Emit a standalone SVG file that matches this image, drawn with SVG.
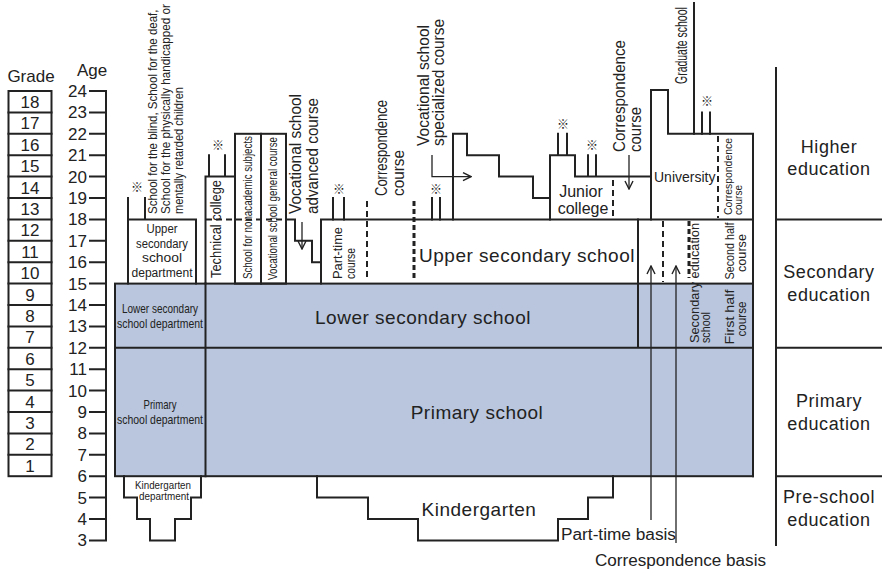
<svg xmlns="http://www.w3.org/2000/svg" width="882" height="569" viewBox="0 0 882 569">
<defs>
<style>
.ln{fill:none;stroke:#222;stroke-width:2;stroke-linejoin:miter;stroke-linecap:square}
.thin{fill:none;stroke:#222;stroke-width:1.3}
.dash{fill:none;stroke:#222;stroke-width:2;stroke-dasharray:6 4}
.dashb{fill:none;stroke:#222;stroke-width:3;stroke-dasharray:5 3}
.blue{fill:#b9c6dd;stroke:#222;stroke-width:2}
.t{font-family:"Liberation Sans",Arial,sans-serif;fill:#222}
.m{text-anchor:middle}
.e{text-anchor:end}
.big{font-size:19px;letter-spacing:0.5px}
.lab{font-size:18px;letter-spacing:0.6px;text-anchor:middle}
.mk{font-family:"Noto Sans CJK JP","DejaVu Sans",sans-serif;font-size:12px;font-weight:700;fill:#222;text-anchor:middle}
</style>
<marker id="ah" viewBox="0 0 10 10" refX="9" refY="5" markerWidth="10" markerHeight="10" markerUnits="userSpaceOnUse" orient="auto"><path d="M1,1 L9,5 L1,9" fill="none" stroke="#222" stroke-width="1.4"/></marker>
</defs>
<rect width="882" height="569" fill="#fff"/>

<g id="grade-column">
<text class="t m" x="31" y="82" font-size="17">Grade</text>
<rect class="ln" x="8.5" y="91" width="43" height="385.2"/>
<path class="ln" d="M8.5,112.4H51.5M8.5,133.8H51.5M8.5,155.2H51.5M8.5,176.6H51.5M8.5,198H51.5M8.5,219.4H51.5M8.5,240.8H51.5M8.5,262.2H51.5M8.5,283.6H51.5M8.5,305H51.5M8.5,326.4H51.5M8.5,347.8H51.5M8.5,369.2H51.5M8.5,390.6H51.5M8.5,412H51.5M8.5,433.4H51.5M8.5,454.8H51.5"/>
<g class="t m" font-size="17">
<text x="30" y="108">18</text><text x="30" y="129.4">17</text><text x="30" y="150.8">16</text><text x="30" y="172.2">15</text><text x="30" y="193.6">14</text><text x="30" y="215">13</text><text x="30" y="236.4">12</text><text x="30" y="257.8">11</text><text x="30" y="279.2">10</text><text x="30" y="300.6">9</text><text x="30" y="322">8</text><text x="30" y="343.4">7</text><text x="30" y="364.8">6</text><text x="30" y="386.2">5</text><text x="30" y="407.6">4</text><text x="30" y="429">3</text><text x="30" y="450.4">2</text><text x="30" y="471.8">1</text>
</g>
</g>

<g id="age-axis">
<text class="t m" x="92" y="76" font-size="17">Age</text>
<path class="ln" d="M106,91V540.4M90,91H106M90,112.4H106M90,133.8H106M90,155.2H106M90,176.6H106M90,198H106M90,219.4H106M90,240.8H106M90,262.2H106M90,283.6H106M90,305H106M90,326.4H106M90,347.8H106M90,369.2H106M90,390.6H106M90,412H106M90,433.4H106M90,454.8H106M90,476.2H106M90,497.6H106M90,519H106M90,540.4H106"/>
<g class="t e" font-size="17">
<text x="87" y="97">24</text><text x="87" y="118.4">23</text><text x="87" y="139.8">22</text><text x="87" y="161.2">21</text><text x="87" y="182.6">20</text><text x="87" y="204">19</text><text x="87" y="225.4">18</text><text x="87" y="246.8">17</text><text x="87" y="268.2">16</text><text x="87" y="289.6">15</text><text x="87" y="311">14</text><text x="87" y="332.4">13</text><text x="87" y="353.8">12</text><text x="87" y="375.2">11</text><text x="87" y="396.6">10</text><text x="87" y="418">9</text><text x="87" y="439.4">8</text><text x="87" y="460.8">7</text><text x="87" y="482.2">6</text><text x="87" y="503.6">5</text><text x="87" y="525">4</text><text x="87" y="546.4">3</text>
</g>
</g>

<g id="compulsory-blue">
<rect class="blue" x="115" y="283.6" width="638" height="192.6"/>
<path class="ln" d="M205.5,283.6V476.2M115,347.8H753M638,219.4V347.8"/>
</g>

<g id="lower-secondary-school">
<text class="t m big" x="423" y="324">Lower secondary school</text>
</g>
<g id="primary-school">
<text class="t m big" x="477" y="419">Primary school</text>
</g>

<g id="special-school">
<path class="ln" d="M128,198V283.6M128,219.4H196V283.6M145,198V219.4"/>
<text class="mk" x="137" y="192">※</text>
<g class="t" font-size="13">
<text transform="translate(157,214) rotate(-90) scale(0.885,1)">School for the blind, School for the deaf,</text>
<text transform="translate(170,214) rotate(-90) scale(0.9,1)">School for the physically handicapped or</text>
<text transform="translate(183,214) rotate(-90) scale(0.85,1)">mentally retarded children</text>
</g>
<g class="t m" font-size="12.5">
<text x="162" y="233" textLength="31" lengthAdjust="spacingAndGlyphs">Upper</text>
<text x="162" y="247.5" textLength="52" lengthAdjust="spacingAndGlyphs">secondary</text>
<text x="162" y="262" textLength="40" lengthAdjust="spacingAndGlyphs">school</text>
<text x="162" y="276.5" textLength="61" lengthAdjust="spacingAndGlyphs">department</text>
</g>
<g class="t m" font-size="13">
<text x="160" y="313" textLength="76" lengthAdjust="spacingAndGlyphs">Lower secondary</text>
<text x="160" y="328" textLength="86" lengthAdjust="spacingAndGlyphs">school department</text>
<text x="160" y="409" textLength="33" lengthAdjust="spacingAndGlyphs">Primary</text>
<text x="160" y="424" textLength="86" lengthAdjust="spacingAndGlyphs">school department</text>
</g>
</g>

<g id="kindergarten-department">
<path class="ln" d="M124,476.2V497.6H137V519H150V540.4H175V519H191V497.6H201V476.2"/>
<g class="t m" font-size="11">
<text x="163" y="489" textLength="56" lengthAdjust="spacingAndGlyphs">Kindergarten</text>
<text x="164" y="500" textLength="50" lengthAdjust="spacingAndGlyphs">department</text>
</g>
</g>

<g id="technical-college">
<path class="ln" d="M205.5,176.6V283.6M205.5,176.6H235M209,155.2V176.6M225,155.2V176.6"/>
<text class="mk" x="218" y="150">※</text>
<text class="t" font-size="15" transform="translate(221,278) rotate(-90)" textLength="98" lengthAdjust="spacingAndGlyphs">Technical college</text>
</g>

<g id="school-nonacademic">
<rect class="ln" x="235" y="133.8" width="26" height="149.8"/>
<text class="t" font-size="13" transform="translate(252,279) rotate(-90)" textLength="143" lengthAdjust="spacingAndGlyphs">School for nonacademic subjects</text>
</g>

<g id="vocational-general">
<rect class="ln" x="261" y="133.8" width="25" height="149.8"/>
<text class="t" font-size="13" transform="translate(277,280) rotate(-90)" textLength="143" lengthAdjust="spacingAndGlyphs">Vocational school general course</text>
</g>

<g id="vocational-advanced">
<path class="ln" d="M286,219.4H295V240.8H312V262.2H321"/>
<g class="t" font-size="16">
<text transform="translate(301,214) rotate(-90)" textLength="120" lengthAdjust="spacingAndGlyphs">Vocational school</text>
<text transform="translate(318,214) rotate(-90)" textLength="116" lengthAdjust="spacingAndGlyphs">advanced course</text>
</g>
</g>

<g id="upper-secondary-school">
<path class="ln" d="M321,283.6V219.4H753"/>
<path class="ln" d="M333,198V219.4M344,198V219.4M432,198V219.4M440,198V219.4"/>
<text class="mk" x="339" y="194">※</text>
<text class="mk" x="436" y="194">※</text>
<text class="t m big" x="527" y="262">Upper secondary school</text>
<g class="t" font-size="12">
<text transform="translate(342,279) rotate(-90)" textLength="52" lengthAdjust="spacingAndGlyphs">Part-time</text>
<text transform="translate(355,279) rotate(-90)" textLength="31" lengthAdjust="spacingAndGlyphs">course</text>
</g>
<g class="t" font-size="16">
<text transform="translate(387,196) rotate(-90)" textLength="96" lengthAdjust="spacingAndGlyphs">Correspondence</text>
<text transform="translate(404,196) rotate(-90)" textLength="46" lengthAdjust="spacingAndGlyphs">course</text>
</g>
</g>

<g id="vocational-specialized">
<path class="ln" d="M453,219.4V133.8H467V155.2H499V176.6H533V198H550"/>
<g class="t" font-size="16">
<text transform="translate(429,146) rotate(-90)" textLength="121" lengthAdjust="spacingAndGlyphs">Vocational school</text>
<text transform="translate(444,146) rotate(-90)" textLength="127" lengthAdjust="spacingAndGlyphs">specialized course</text>
</g>
</g>

<g id="junior-college">
<path class="ln" d="M550,219.4V155.2H575V176.6H651M558,133.8V155.2M567,133.8V155.2M588,155.2V176.6M596,155.2V176.6"/>
<text class="mk" x="563" y="129">※</text>
<text class="mk" x="592" y="150">※</text>
<g class="t m" font-size="16">
<text x="581" y="197">Junior</text>
<text x="583" y="214">college</text>
</g>
<g class="t" font-size="16">
<text transform="translate(625,152) rotate(-90)" textLength="112" lengthAdjust="spacingAndGlyphs">Correspondence</text>
<text transform="translate(641,152) rotate(-90)" textLength="45" lengthAdjust="spacingAndGlyphs">course</text>
</g>
</g>

<g id="university">
<path class="ln" d="M651,219.4V90H668V133.8H753V476.2"/>
<path class="ln" d="M694,3V133.8M702,112.4V133.8M710,112.4V133.8"/>
<text class="mk" x="707" y="106">※</text>
<text class="t" font-size="16" transform="translate(687,84) rotate(-90) scale(0.655,1)">Graduate school</text>
<text class="t" x="654" y="182" font-size="14">University</text>
<g class="t" font-size="11">
<text transform="translate(732,215) rotate(-90)" textLength="77" lengthAdjust="spacingAndGlyphs">Correspondence</text>
<text transform="translate(742,215) rotate(-90)" textLength="30" lengthAdjust="spacingAndGlyphs">course</text>
</g>
</g>

<g id="secondary-education-school">
<g class="t" font-size="12.5">
<text transform="translate(699,343) rotate(-90)" textLength="120" lengthAdjust="spacingAndGlyphs">Secondary education</text>
<text transform="translate(710,343) rotate(-90)" textLength="31" lengthAdjust="spacingAndGlyphs">school</text>
</g>
<g class="t m" font-size="13">
<text transform="translate(734,251) rotate(-90)" textLength="57" lengthAdjust="spacingAndGlyphs">Second half</text>
<text transform="translate(746,253) rotate(-90)" textLength="38" lengthAdjust="spacingAndGlyphs">course</text>
<text transform="translate(734,317) rotate(-90)" textLength="55" lengthAdjust="spacingAndGlyphs">First half</text>
<text transform="translate(746,319) rotate(-90)" textLength="35" lengthAdjust="spacingAndGlyphs">course</text>
</g>
</g>

<g id="kindergarten">
<path class="ln" d="M317,476.2V497.6H368V519H418V540.4H558V519H588V497.6H613V476.2"/>
<text class="t m big" x="479" y="516">Kindergarten</text>
</g>

<g id="basis-labels">
<text class="t" x="561" y="540" font-size="16" textLength="115" lengthAdjust="spacingAndGlyphs">Part-time basis</text>
<text class="t" x="595" y="566" font-size="16" textLength="171" lengthAdjust="spacingAndGlyphs">Correspondence basis</text>
</g>

<g id="connectors">
<path class="dash" d="M206,219.4H286"/>
<path class="dash" d="M367,201V279"/>
<path class="dashb" d="M414,201V279"/>
<path class="dash" d="M613,180V218"/>
<path class="dash" d="M663,221V282"/>
<path class="dashb" d="M689,221V278"/>
<path class="dash" d="M718,136V218"/>
<path class="thin" d="M302,222V249" marker-end="url(#ah)"/>
<path class="thin" d="M432,155V176.6H471" marker-end="url(#ah)"/>
<path class="thin" d="M629,155V189" marker-end="url(#ah)"/>
<path class="thin" d="M651,520V266" marker-end="url(#ah)"/>
<path class="thin" d="M676,543V266" marker-end="url(#ah)"/>
</g>

<g id="stage-panel">
<path class="ln" d="M776,68V545M776,219.4H882M776,347.8H882M776,476.2H882"/>
<text class="t lab" x="829" y="153">Higher</text>
<text class="t lab" x="829" y="175">education</text>
<text class="t lab" x="829" y="278">Secondary</text>
<text class="t lab" x="829" y="301">education</text>
<text class="t lab" x="829" y="407">Primary</text>
<text class="t lab" x="829" y="430">education</text>
<text class="t lab" x="829" y="503">Pre-school</text>
<text class="t lab" x="829" y="526">education</text>
</g>
</svg>
